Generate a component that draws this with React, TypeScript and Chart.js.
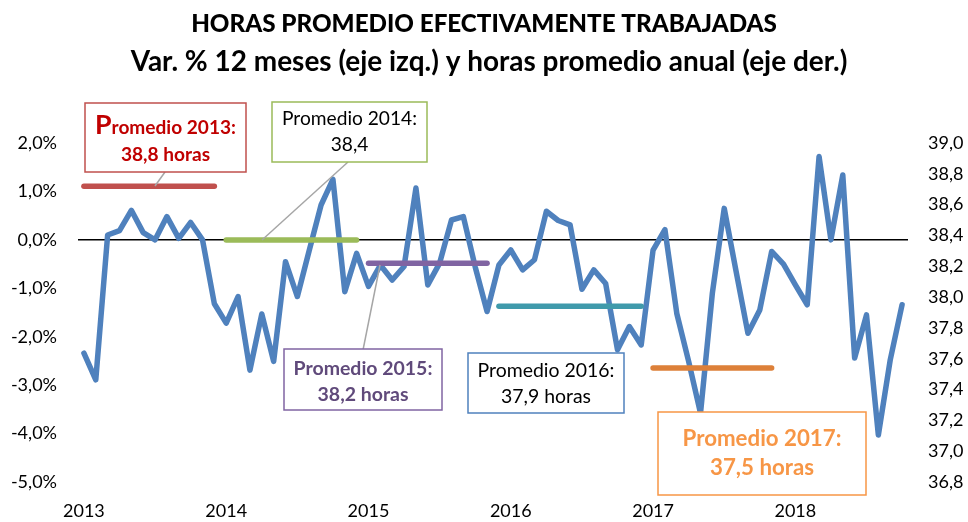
import { useEffect, useRef } from 'react';
import { Chart, registerables } from 'chart.js';

Chart.register(...registerables);

const FONT = 'Lato, "Open Sans", sans-serif';

// ---------- DATA ----------
const YEARS = [2013, 2014, 2015, 2016, 2017, 2018];
const MONTHS = ['ene', 'feb', 'mar', 'abr', 'may', 'jun', 'jul', 'ago', 'sep', 'oct', 'nov', 'dic'];
const N_MONTHS = 70; // ene-2013 .. oct-2018
const categorias = YEARS.flatMap((y) => MONTHS.map((m) => `${m}-${y}`)).slice(0, N_MONTHS);

// Var. % 12 meses (left axis, percent)
const variacion = [
  -2.34, -2.89, 0.10, 0.19, 0.61, 0.15, 0.00, 0.48, 0.03, 0.36, 0.00, -1.32,
  -1.72, -1.17, -2.69, -1.53, -2.51, -0.45, -1.17, -0.22, 0.72, 1.25, -1.07, -0.28,
  -0.96, -0.52, -0.83, -0.55, 1.07, -0.93, -0.48, 0.41, 0.48, -0.56, -1.48, -0.52,
  -0.21, -0.62, -0.41, 0.59, 0.40, 0.31, -1.02, -0.62, -0.90, -2.27, -1.79, -2.17,
  -0.21, 0.21, -1.52, -2.51, -3.58, -1.10, 0.65, -0.65, -1.93, -1.45, -0.24, -0.50,
  -0.93, -1.34, 1.72, 0.00, 1.34, -2.44, -1.55, -4.03, -2.48, -1.34,
];

// Horas promedio anual (right axis)
const promedioNombres = ['Promedio 2013', 'Promedio 2014', 'Promedio 2015', 'Promedio 2016', 'Promedio 2017'];
const promedioValores = [38.72, 38.37, 38.22, 37.94, 37.54];
const promedioDesde = [0, 12, 24, 35, 48];
const promedioHasta = [11, 23, 34, 47, 58];
const promedioColores = ['#C0504D', '#9BBB59', '#8064A2', '#3F9AAB', '#DD8039'];

// Axis ranges / ticks
const izqMin = -5;
const izqMax = 2;
const izqPaso = 1;
const derMin = 36.8;
const derMax = 39.0;
const derPaso = 0.2;

const titulo1 = 'HORAS PROMEDIO EFECTIVAMENTE TRABAJADAS';
const titulo2 = 'Var. % 12 meses (eje izq.) y horas promedio anual (eje der.)';

// annotation boxes (text)
const cajas = [
  { lines: ['Promedio 2013:', '38,8 horas'], x: 85, y: 103, w: 161, h: 69, border: '#C0504D', color: '#C00000', weight: 'bold', target: 141, base: [134, 161], bigP: true },
  { lines: ['Promedio 2014:', '38,4'], x: 272, y: 102, w: 155, h: 60, border: '#9BBB59', color: '#000000', weight: 'normal', target: 135, base: [125, 151], bigP: false },
  { lines: ['Promedio 2015:', '38,2 horas'], x: 284, y: 349, w: 158, h: 61, border: '#8064A2', color: '#604A7B', weight: 'bold', target: 139, base: [375, 401], bigP: false },
  { lines: ['Promedio 2016:', '37,9 horas'], x: 468, y: 353, w: 156, h: 60, border: '#4F81BD', color: '#000000', weight: 'normal', target: 137, base: [377, 403], bigP: false },
  { lines: ['Promedio 2017:', '37,5 horas'], x: 658, y: 412, w: 208, h: 83, border: '#F79646', color: '#F79646', weight: 'bold', target: 159, base: [446, 475], bigP: false },
];

const conectores = [
  [165, 172, 155, 186],
  [348, 162, 262, 240],
  [380, 265, 363, 350],
];

function fmtComa(v: number, dec: number) {
  return Number(v).toFixed(dec).replace('.', ',');
}

function fitSize(ctx: CanvasRenderingContext2D, text: string, weight: string, target: number) {
  ctx.font = `${weight} 100px ${FONT}`;
  const w = ctx.measureText(text).width;
  return (100 * target) / w;
}

const annotationPlugin = {
  id: 'anotaciones',
  afterDraw(chart: any) {
    const ctx: CanvasRenderingContext2D = chart.ctx;
    ctx.save();
    // title
    ctx.fillStyle = '#000';
    ctx.textAlign = 'center';
    ctx.textBaseline = 'alphabetic';
    const s1 = fitSize(ctx, titulo1, '900', 586);
    ctx.font = `900 ${s1}px ${FONT}`;
    ctx.fillText(titulo1, 484, 32);
    const s2 = fitSize(ctx, titulo2, 'bold', 717);
    ctx.font = `bold ${s2}px ${FONT}`;
    ctx.fillText(titulo2, 489, 71);

    // connectors
    ctx.strokeStyle = '#A6A6A6';
    ctx.lineWidth = 1.5;
    conectores.forEach(([x1, y1, x2, y2]) => {
      ctx.beginPath();
      ctx.moveTo(x1, y1);
      ctx.lineTo(x2, y2);
      ctx.stroke();
    });

    // boxes
    cajas.forEach((c) => {
      ctx.fillStyle = '#FFFFFF';
      ctx.fillRect(c.x, c.y, c.w, c.h);
      ctx.strokeStyle = c.border;
      ctx.lineWidth = 1.5;
      ctx.strokeRect(c.x, c.y, c.w, c.h);
      ctx.fillStyle = c.color;
      const cx = c.x + c.w / 2;
      let size: number;
      if (c.bigP) {
        const rest = c.lines[0].slice(1);
        ctx.font = `${c.weight} 100px ${FONT}`;
        const wP = ctx.measureText('P').width * 1.4;
        const wR = ctx.measureText(rest).width;
        size = (100 * c.target) / (wP + wR);
        ctx.font = `${c.weight} ${size * 1.4}px ${FONT}`;
        const pw = ctx.measureText('P').width;
        ctx.font = `${c.weight} ${size}px ${FONT}`;
        const rw = ctx.measureText(rest).width;
        const startX = cx - (pw + rw) / 2;
        ctx.textAlign = 'left';
        ctx.font = `${c.weight} ${size * 1.4}px ${FONT}`;
        ctx.fillText('P', startX, c.base[0]);
        ctx.font = `${c.weight} ${size}px ${FONT}`;
        ctx.fillText(rest, startX + pw, c.base[0]);
        ctx.textAlign = 'center';
        ctx.fillText(c.lines[1], cx, c.base[1]);
      } else {
        size = fitSize(ctx, c.lines[0], c.weight, c.target);
        ctx.font = `${c.weight} ${size}px ${FONT}`;
        ctx.textAlign = 'center';
        ctx.fillText(c.lines[0], cx, c.base[0]);
        ctx.fillText(c.lines[1], cx, c.base[1]);
      }
    });
    ctx.restore();
  },
};

export default function App() {
  const ref = useRef<HTMLCanvasElement>(null);

  useEffect(() => {
    if (!ref.current) return;
    const avgDatasets = promedioValores.map((v, k) => ({
      label: promedioNombres[k],
      data: categorias.map((_, i) => (i >= promedioDesde[k] && i <= promedioHasta[k] ? v : null)),
      yAxisID: 'y1',
      borderColor: promedioColores[k],
      backgroundColor: promedioColores[k],
      borderWidth: 5.5,
      borderCapStyle: 'round' as const,
      pointRadius: 0,
      fill: false,
      spanGaps: false,
      order: 1,
    }));

    const chart = new Chart(ref.current, {
      type: 'line',
      data: {
        labels: categorias,
        datasets: [
          {
            label: 'Var. % 12 meses',
            data: variacion,
            yAxisID: 'y',
            borderColor: '#4F81BD',
            backgroundColor: '#4F81BD',
            borderWidth: 5.5,
            borderJoinStyle: 'round',
            borderCapStyle: 'round',
            pointRadius: 0,
            tension: 0,
            fill: false,
            order: 2,
          },
          ...avgDatasets,
        ] as any,
      },
      options: {
        animation: false,
        responsive: false,
        devicePixelRatio: 1,
        layout: { padding: { top: 143, left: 0, right: 0, bottom: 0 } },
        plugins: { legend: { display: false }, tooltip: { enabled: false }, title: { display: false } },
        scales: {
          x: {
            type: 'category',
            offset: true,
            grid: { display: false, drawTicks: false },
            border: { display: false },
            ticks: {
              autoSkip: false,
              maxRotation: 0,
              minRotation: 0,
              padding: 18,
              color: '#000',
              font: { family: FONT, size: 18 },
              callback: (_v: any, i: number) => (categorias[i].startsWith('ene') ? categorias[i].split('-')[1] : ''),
            },
            afterFit: (s: any) => {
              s.height = 40;
            },
          },
          y: {
            position: 'left',
            min: izqMin,
            max: izqMax,
            ticks: {
              stepSize: izqPaso,
              padding: 21,
              color: '#000',
              font: { family: FONT, size: 18 },
              callback: (v: any) => fmtComa(v, 1) + '%',
            },
            grid: {
              drawTicks: false,
              color: (c: any) => (c.tick && c.tick.value === 0 ? '#000000' : 'rgba(0,0,0,0)'),
              lineWidth: 1.5,
            },
            border: { display: false },
            afterFit: (s: any) => {
              s.width = 78;
            },
          },
          y1: {
            position: 'right',
            min: derMin,
            max: derMax,
            ticks: {
              stepSize: derPaso,
              padding: 20,
              color: '#000',
              font: { family: FONT, size: 18 },
              callback: (v: any) => fmtComa(v, 1),
            },
            grid: { display: false, drawTicks: false },
            border: { display: false },
            afterFit: (s: any) => {
              s.width = 60;
            },
          },
        },
      },
      plugins: [annotationPlugin],
    });
    return () => chart.destroy();
  }, []);

  return (
    <div style={{ position: 'absolute', left: 0, top: 0, width: 968, height: 522, background: '#fff' }}>
      <canvas ref={ref} width={968} height={522} style={{ display: 'block' }} />
    </div>
  );
}
